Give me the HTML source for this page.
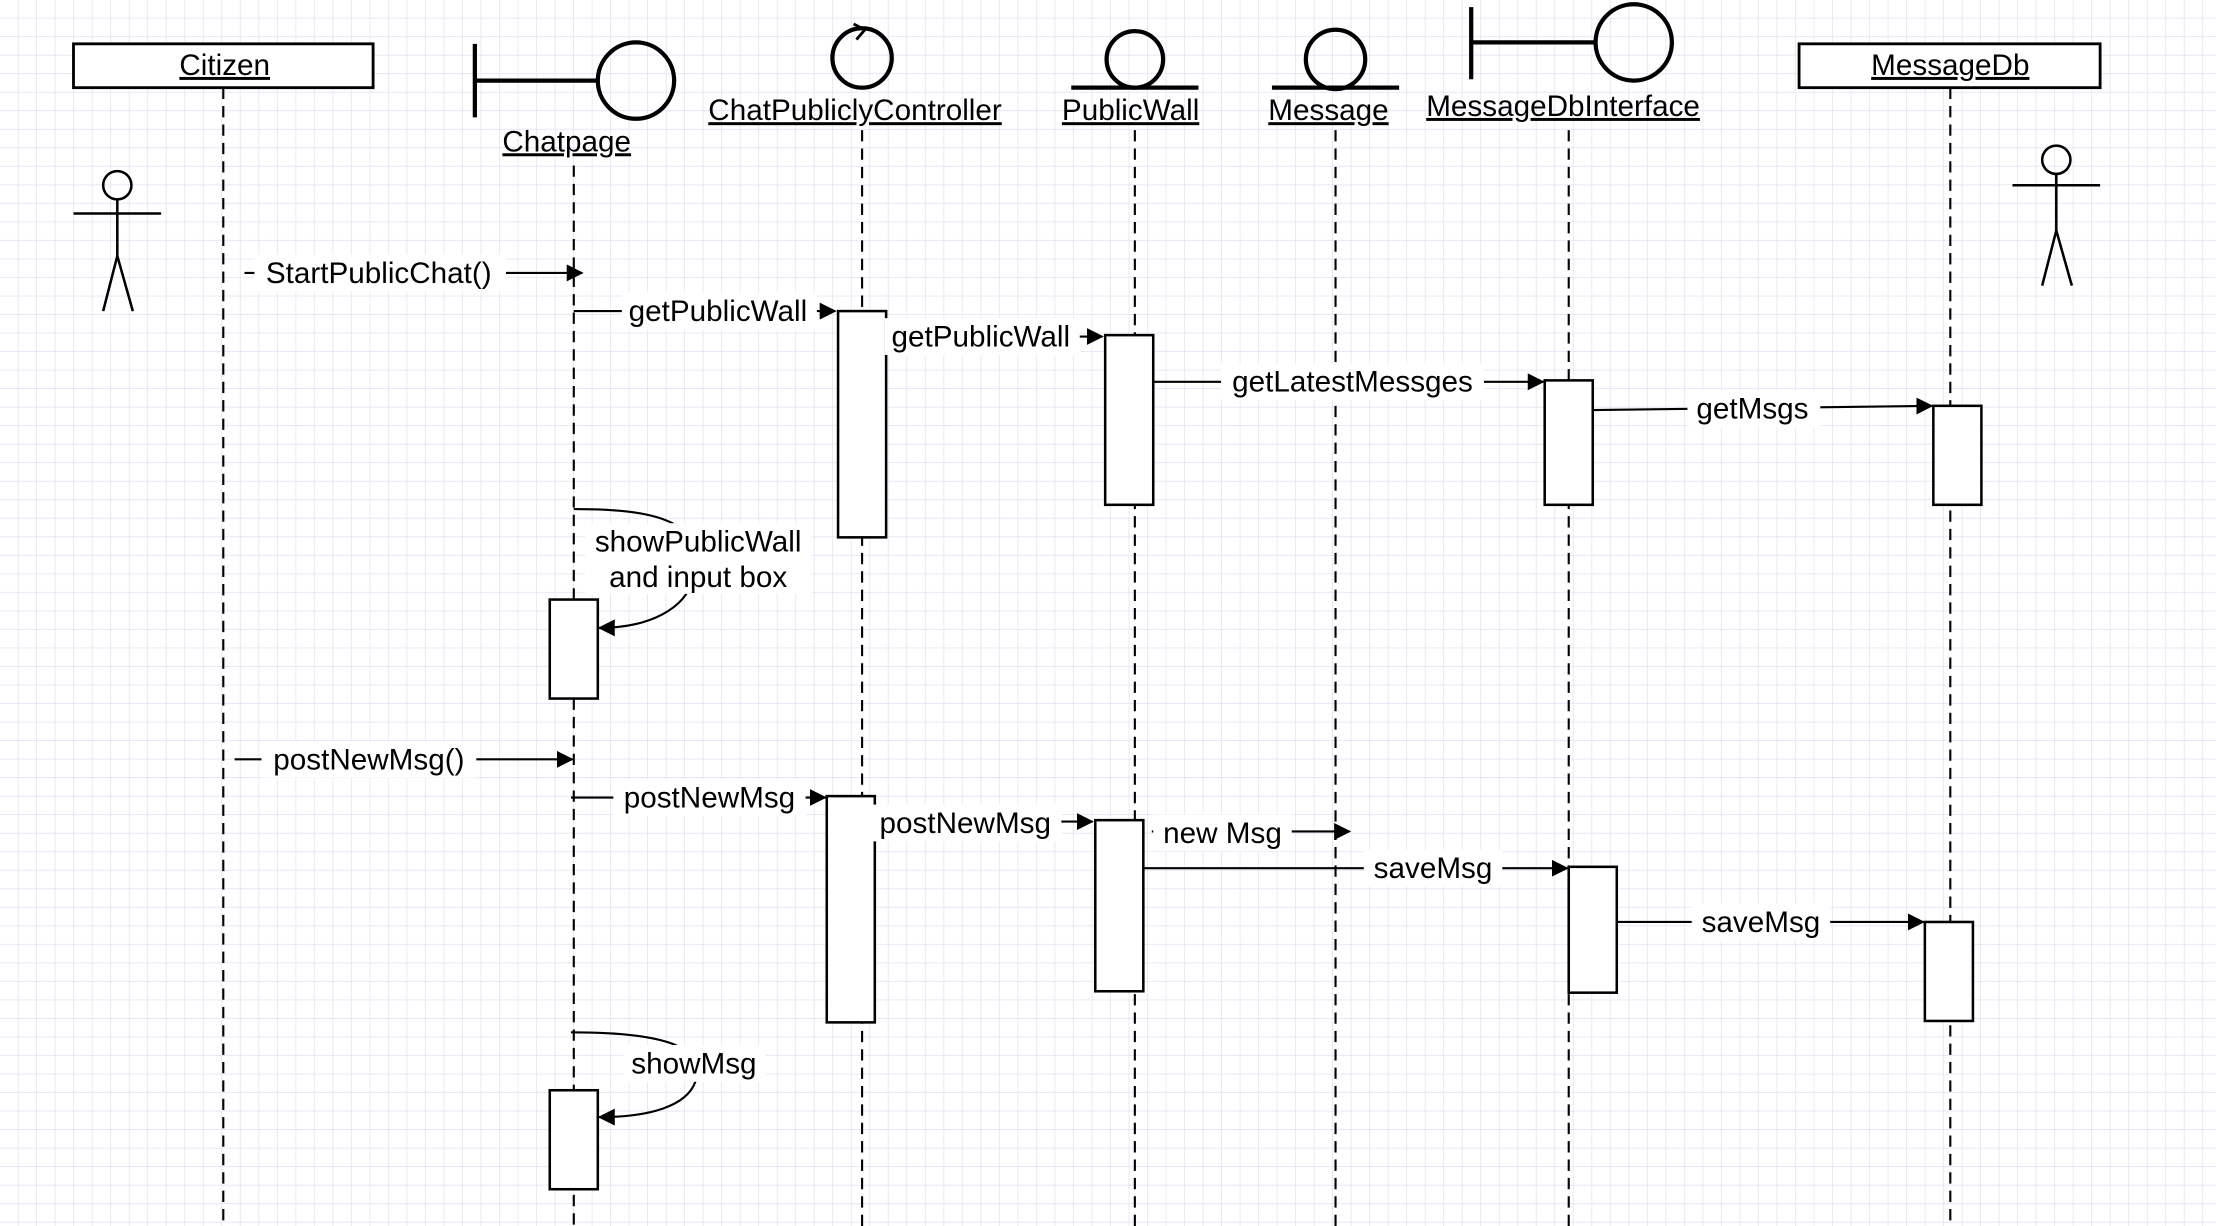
<!DOCTYPE html>
<html><head><meta charset="utf-8"><style>
html,body{margin:0;padding:0;background:#fff;}
svg{display:block;}
text{font-family:"Liberation Sans",Arial,sans-serif;font-size:21px;fill:#000;}
</style></head><body>
<svg width="2216" height="1226" viewBox="0 0 1568 867" preserveAspectRatio="none" xmlns="http://www.w3.org/2000/svg">
<defs>
<pattern id="g" width="13.1" height="13.1" patternUnits="userSpaceOnUse">
<path d="M13.1 0V13.1M0 13.1H13.1" stroke="#e0e0f3" stroke-width="1" fill="none"/>
</pattern>
<marker id="a" markerWidth="12" markerHeight="12" refX="11" refY="6" orient="auto" markerUnits="userSpaceOnUse">
<path d="M0,0 L12,6 L0,12 z" fill="#000"/>
</marker>
</defs>
<rect width="1568" height="867" fill="#fff"/>
<rect width="1568" height="867" fill="url(#g)"/>
<g stroke="#000" fill="none" stroke-width="2">
<rect x="52" y="31" width="212" height="31" fill="#fff"/>
<rect x="1273" y="31" width="213" height="31" fill="#fff"/>
<line x1="336" y1="31" x2="336" y2="83" stroke-width="3"/>
<line x1="336" y1="57" x2="424" y2="57" stroke-width="3"/>
<circle cx="450" cy="57" r="27" stroke-width="3"/>
<circle cx="610" cy="41" r="21" stroke-width="3"/>
<path d="M604 17 L612 21 L606 28" stroke-width="2"/>
<circle cx="803" cy="42" r="20" stroke-width="3"/>
<line x1="758" y1="62" x2="848" y2="62" stroke-width="3"/>
<circle cx="945" cy="42" r="21" stroke-width="3"/>
<line x1="900" y1="62" x2="990" y2="62" stroke-width="3"/>
<line x1="1041" y1="5" x2="1041" y2="56" stroke-width="3"/>
<line x1="1041" y1="30" x2="1130" y2="30" stroke-width="3"/>
<circle cx="1156" cy="30" r="27" stroke-width="3"/>
<g stroke-width="1.8">
<circle cx="83" cy="131" r="10"/><line x1="52" y1="151" x2="114" y2="151"/><line x1="83" y1="141" x2="83" y2="181"/><path d="M73 220 L83 181 L94 220"/>
<circle cx="1455" cy="113" r="10"/><line x1="1424" y1="131" x2="1486" y2="131"/><line x1="1455" y1="123" x2="1455" y2="163"/><path d="M1445 202 L1455 163 L1466 202"/>
</g>
<g stroke-dasharray="8,5" stroke-width="1.5">
<line x1="158" y1="62" x2="158" y2="867"/>
<line x1="406" y1="117" x2="406" y2="867"/>
<line x1="610" y1="92" x2="610" y2="867"/>
<line x1="803" y1="92" x2="803" y2="867"/>
<line x1="945" y1="92" x2="945" y2="867"/>
<line x1="1110" y1="92" x2="1110" y2="867"/>
<line x1="1380" y1="62" x2="1380" y2="867"/>
</g>
<g fill="#fff" stroke-width="1.8">
<rect x="593" y="220" width="34" height="160"/>
<rect x="782" y="237" width="34" height="120"/>
<rect x="1093" y="269" width="34" height="88"/>
<rect x="1368" y="287" width="34" height="70"/>
<rect x="389" y="424" width="34" height="70"/>
<rect x="585" y="563" width="34" height="160"/>
<rect x="775" y="580" width="34" height="121"/>
<rect x="1110" y="613" width="34" height="89"/>
<rect x="1362" y="652" width="34" height="70"/>
<rect x="389" y="771" width="34" height="70"/>
</g>
<g stroke-width="1.5" marker-end="url(#a)">
<line x1="173" y1="193" x2="412" y2="193"/>
<line x1="406" y1="220" x2="591" y2="220"/>
<line x1="627" y1="238" x2="780" y2="238"/>
<line x1="816" y1="270" x2="1092" y2="270"/>
<line x1="1127" y1="290" x2="1367" y2="287"/>
<path d="M406 360 C470 360 500 370 490 410 C485 430 460 444 424 444"/>
<line x1="166" y1="537" x2="405" y2="537"/>
<line x1="404" y1="564" x2="584" y2="564"/>
<line x1="619" y1="581" x2="773" y2="581"/>
<line x1="815" y1="588" x2="955" y2="588"/>
<line x1="809" y1="614" x2="1109" y2="614"/>
<line x1="1144" y1="652" x2="1361" y2="652"/>
<path d="M404 730 C470 730 500 740 492 765 C486 782 460 790 424 790"/>
</g>
</g>
<g text-anchor="middle" text-decoration="underline">
<text x="159" y="53">Citizen</text>
<text x="1380" y="53">MessageDb</text>
<text x="401" y="107">Chatpage</text>
<text x="605" y="85">ChatPubliclyController</text>
<text x="800" y="85">PublicWall</text>
<text x="940" y="85">Message</text>
<text x="1106" y="82">MessageDbInterface</text>
</g>
<g text-anchor="middle">
<g fill="#fff">
<rect x="180" y="180" width="178" height="26"/>
<rect x="440" y="207" width="138" height="26"/>
<rect x="626" y="225" width="138" height="26"/>
<rect x="864" y="257" width="186" height="26"/>
<rect x="1194" y="276" width="94" height="26"/>
<rect x="414" y="370" width="160" height="50"/>
<rect x="185" y="524" width="152" height="26"/>
<rect x="434" y="551" width="136" height="26"/>
<rect x="617" y="569" width="134" height="26"/>
<rect x="816" y="576" width="98" height="26"/>
<rect x="965" y="601" width="98" height="26"/>
<rect x="1197" y="639" width="98" height="26"/>
<rect x="441" y="739" width="101" height="26"/>
</g>
<text x="268" y="200">StartPublicChat()</text>
<text x="508" y="227">getPublicWall</text>
<text x="694" y="245">getPublicWall</text>
<text x="957" y="277">getLatestMessges</text>
<text x="1240" y="296">getMsgs</text>
<text x="494" y="390">showPublicWall</text>
<text x="494" y="415">and input box</text>
<text x="261" y="544">postNewMsg()</text>
<text x="502" y="571">postNewMsg</text>
<text x="683" y="589">postNewMsg</text>
<text x="865" y="596">new Msg</text>
<text x="1014" y="621">saveMsg</text>
<text x="1246" y="659">saveMsg</text>
<text x="491" y="759">showMsg</text>
</g>
</svg>
</body></html>
